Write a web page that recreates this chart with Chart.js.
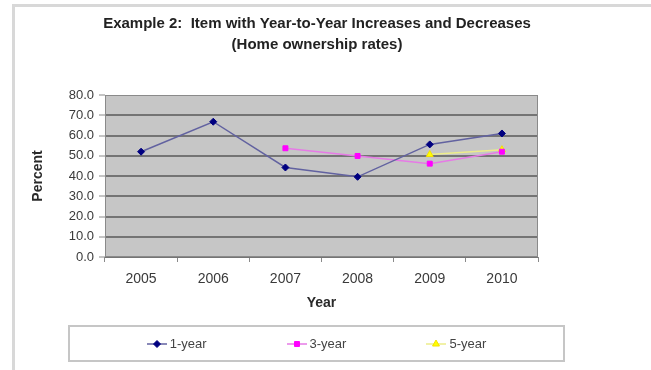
<!DOCTYPE html>
<html>
<head>
<meta charset="utf-8">
<script src="https://cdn.jsdelivr.net/npm/chart.js@4/dist/chart.umd.min.js"></script>
<style>
  html, body { margin: 0; padding: 0; background: #fff; }
  #wrap { position: relative; width: 651px; height: 370px; }
  #legend {
    position: absolute; left: 68px; top: 325px; width: 497px; height: 37px;
    box-sizing: border-box; border: 2px solid #c6c6c6;
    display: flex; justify-content: center; align-items: center; gap: 80px;
    font: 13px "Liberation Sans", Arial, sans-serif; color: #444;
  }
  #legend .item { display: flex; align-items: center; gap: 3px; }
  #legend canvas { display: block; }
</style>
</head>
<body>
<div id="wrap">
  <canvas id="chart" width="651" height="370"></canvas>
  <div id="legend"></div>
</div>
<script>
// Home ownership rates by year, three averaging windows
const years = ['2005', '2006', '2007', '2008', '2009', '2010'];
const oneYear   = [52.0, 66.8, 44.2, 39.6, 55.6, 61.0];
const threeYear = [null, null, 53.7, 49.9, 46.1, 52.0];
const fiveYear  = [null, null, null, null, 50.6, 53.0];
const seriesNames = ['1-year', '3-year', '5-year'];

const yMin = 0, yMax = 80, yStep = 10;
const titleLines = ['Example 2:  Item with Year-to-Year Increases and Decreases', '(Home ownership rates)'];
const FONT = '"Liberation Sans", Arial, sans-serif';

// Grey plot area, thin plot frame and the light outer frame
const framePlugin = {
  id: 'frames',
  beforeDraw(chart) {
    const { ctx, chartArea: a } = chart;
    ctx.save();
    ctx.strokeStyle = '#d8d8d8';
    ctx.lineWidth = 3;
    ctx.strokeRect(13.5, 5.5, chart.width + 20, chart.height + 20);
    ctx.fillStyle = '#c6c6c6';
    ctx.fillRect(a.left, a.top, a.right - a.left, a.bottom - a.top);
    ctx.restore();
  },
  beforeDatasetsDraw(chart) {
    const { ctx, chartArea: a } = chart;
    ctx.save();
    ctx.strokeStyle = '#8a8a8a';
    ctx.lineWidth = 1;
    ctx.strokeRect(Math.round(a.left) + 0.5, Math.round(a.top) + 0.5,
                   Math.round(a.right - a.left) - 1, Math.round(a.bottom - a.top) - 1);
    ctx.restore();
  }
};

const chart = new Chart(document.getElementById('chart'), {
  type: 'line',
  data: {
    labels: years,
    datasets: [
      {
        label: seriesNames[0], data: oneYear,
        borderColor: 'rgb(98,98,160)', borderWidth: 1.5, tension: 0,
        pointStyle: 'rectRot', pointRadius: 3.5,
        pointBackgroundColor: '#000080', pointBorderColor: '#000080', pointBorderWidth: 1
      },
      {
        label: seriesNames[1], data: threeYear,
        borderColor: '#e67ae6', borderWidth: 1.5, tension: 0,
        pointStyle: 'rect', pointRadius: 3.5,
        pointBackgroundColor: '#ff00ff', pointBorderColor: '#ff00ff', pointBorderWidth: 1
      },
      {
        label: seriesNames[2], data: fiveYear,
        borderColor: '#eded8a', borderWidth: 1.5, tension: 0,
        pointStyle: 'triangle', pointRadius: 4,
        pointBackgroundColor: '#ffff00', pointBorderColor: '#f4e000', pointBorderWidth: 1
      }
    ]
  },
  options: {
    responsive: false,
    animation: false,
    events: [],
    layout: { padding: { left: 0, right: 17, top: 0, bottom: 53 } },
    plugins: {
      legend: { display: false },
      tooltip: { enabled: false },
      title: {
        display: true,
        text: titleLines,
        color: '#222',
        font: { family: FONT, size: 15, weight: 'bold', lineHeight: 1.4 },
        padding: { top: 13.5, bottom: 39.5 }
      }
    },
    scales: {
      x: {
        type: 'category',
        offset: true,
        ticks: { font: { family: FONT, size: 14 }, color: '#3a3a3a', padding: 9, maxRotation: 0 },
        grid: { display: true, drawOnChartArea: false, offset: true, tickLength: 5, color: '#8a8a8a', lineWidth: 1 },
        border: { display: false },
        title: {
          display: true, text: 'Year', color: '#2a2a2a',
          font: { family: FONT, size: 14, weight: 'bold' },
          padding: { top: 0, bottom: 5.6 }
        },
        afterFit(scale) { scale.height = 60; }
      },
      y: {
        min: yMin, max: yMax,
        ticks: {
          stepSize: yStep, font: { family: FONT, size: 13 }, color: '#3a3a3a', padding: 5,
          callback: v => Number(v).toFixed(1)
        },
        grid: {
          color: c => (c.tick && c.tick.value === yMax) ? 'rgba(0,0,0,0)' : '#747474',
          lineWidth: 2, tickLength: 6, tickColor: '#8a8a8a', tickWidth: 1
        },
        border: { display: false },
        title: {
          display: true, text: 'Percent', color: '#2a2a2a',
          font: { family: FONT, size: 14, weight: 'bold' },
          padding: { top: 29.6, bottom: 0 }
        },
        afterFit(scale) { scale.width = 105; }
      },
      yRight: {
        type: 'linear', position: 'right', display: true,
        grid: { display: false }, ticks: { display: false }, border: { display: false },
        afterFit(scale) { scale.width = 96; }
      }
    }
  },
  plugins: [framePlugin]
});

// Legend entries: a short line segment with the series marker, then the name
const legendEl = document.getElementById('legend');
chart.data.datasets.forEach(ds => {
  const item = document.createElement('div');
  item.className = 'item';
  const c = document.createElement('canvas');
  c.width = 20; c.height = 10;
  const g = c.getContext('2d');
  g.strokeStyle = ds.borderColor;
  g.lineWidth = ds.borderWidth;
  g.beginPath(); g.moveTo(0, 5); g.lineTo(20, 5); g.stroke();
  g.fillStyle = ds.pointBackgroundColor;
  g.strokeStyle = ds.pointBorderColor;
  g.lineWidth = ds.pointBorderWidth;
  Chart.helpers.drawPoint(g, { pointStyle: ds.pointStyle, radius: ds.pointRadius, rotation: 0, borderWidth: ds.pointBorderWidth }, 10, 5);
  const t = document.createElement('span');
  t.textContent = ds.label;
  item.appendChild(c); item.appendChild(t);
  legendEl.appendChild(item);
});
</script>
</body>
</html>
